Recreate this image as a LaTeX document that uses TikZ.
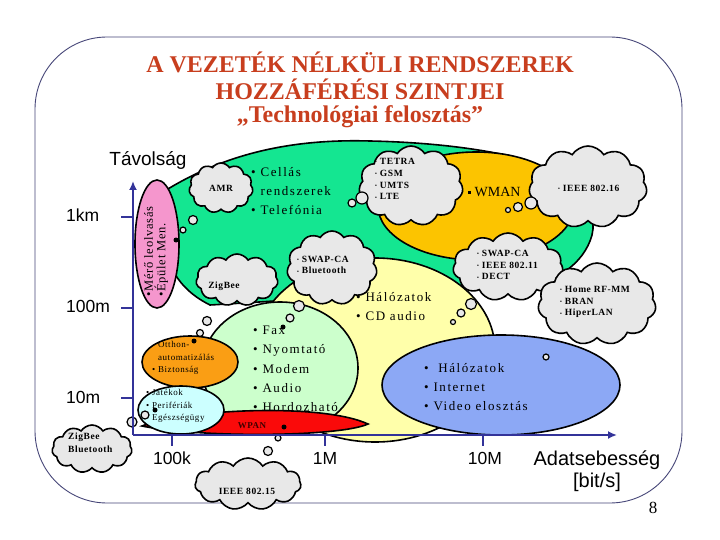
\documentclass[tikz,border=0pt]{standalone}
\usepackage{fontspec}
\usepackage{graphicx}
\setmainfont{Liberation Serif}
\newfontfamily\arialf{Liberation Sans}
\newfontfamily\spacedf[LetterSpace=12]{Liberation Serif}
\newfontfamily\cloudf[LetterSpace=6]{Liberation Serif}
\usetikzlibrary{shapes.symbols,arrows.meta}
\definecolor{titlec}{RGB}{200,62,30}
\definecolor{framec}{RGB}{70,70,120}
\definecolor{axisblue}{RGB}{51,51,153}
\definecolor{greenreg}{RGB}{20,230,145}
\definecolor{orangebig}{RGB}{252,196,0}
\definecolor{yellowreg}{RGB}{255,255,170}
\definecolor{lightgreen}{RGB}{204,255,204}
\definecolor{orangesmall}{RGB}{250,158,20}
\definecolor{cyanreg}{RGB}{204,255,255}
\definecolor{redreg}{RGB}{250,10,10}
\definecolor{bluereg}{RGB}{140,168,245}
\definecolor{pinkreg}{RGB}{245,150,205}
\definecolor{cloudgray}{RGB}{232,232,232}
\newcommand\smbul{\raisebox{0.6pt}{\scalebox{0.55}{•}}\ }
\begin{document}
\begin{tikzpicture}[x=1pt,y=-1pt,
  cloudbox/.style={cloud, cloud puffs=11, cloud puff arc=115, draw=black, line width=1.6pt, fill=cloudgray, inner sep=0pt},
  bubble/.style={draw=black, line width=1.2pt, fill=cloudgray},
  blackdot/.style={fill=black},
  region/.style={draw=black, line width=1.6pt},
  axisline/.style={draw=axisblue, line width=2.6pt},
  ticks/.style={draw=axisblue, line width=2.6pt},
  txt/.style={inner sep=0pt, align=left, anchor=west},
  titlestyle/.style={inner sep=0pt, text=titlec, font=\fontsize{24}{28}\selectfont\bfseries},
  axlabel/.style={inner sep=0pt, font=\arialf\fontsize{17.5}{20}\selectfont},
  biglabel/.style={inner sep=0pt, font=\arialf\fontsize{20}{22}\selectfont},
  serifbig/.style={txt, font=\spacedf\fontsize{13}{19.2}\selectfont},
  cloudtxt/.style={txt, font=\cloudf\bfseries\fontsize{9.5}{11.8}\selectfont},
  smalltxt/.style={txt, font=\cloudf\fontsize{9}{12.5}\selectfont},
]
\useasboundingbox (0,0) rectangle (720,540);
\fill[white] (0,0) rectangle (720,540);
\draw[draw=framec, line width=0.9pt, rounded corners=72pt] (35,37) rectangle (682,503);

% title
\node[titlestyle] (t1) at (360,62) {A VEZETÉK NÉLKÜLI RENDSZEREK};
\node[titlestyle] (t2) at (360,89) {HOZZÁFÉRÉSI SZINTJEI};
\node[titlestyle] (t3) at (360,117) {„Technológiai felosztás”};

% regions
\filldraw[region, fill=greenreg] (163,192) .. controls (230,150) and (300,139) .. (370,141)
  .. controls (420,142) and (470,147) .. (510,156)
  .. controls (560,168) and (600,205) .. (592,235)
  .. controls (588,250) and (578,262) .. (567,270)
  .. controls (540,285) and (500,286) .. (470,286)
  .. controls (420,290) and (300,300) .. (210,305)
  .. controls (190,295) and (178,282) .. (170,265) -- cycle;
\filldraw[region, fill=orangebig] (476,206) ellipse [x radius=98pt, y radius=54pt];
\filldraw[region, fill=yellowreg] (375,350) ellipse [x radius=120pt, y radius=92pt];
\filldraw[region, fill=bluereg] (501,385) ellipse [x radius=119pt, y radius=50pt];
\filldraw[region, fill=lightgreen] (280,368) ellipse [x radius=78pt, y radius=66pt];
\filldraw[region, fill=orangesmall] (190,362) ellipse [x radius=48pt, y radius=26pt];
\filldraw[region, fill=redreg] (142,426) .. controls (180,410) and (320,402) .. (368,424)
  .. controls (340,437) and (200,438) .. cycle;
\filldraw[region, fill=cyanreg] (181,410) ellipse [x radius=43pt, y radius=24pt];
\filldraw[region, fill=pinkreg] (157,244) ellipse [x radius=22pt, y radius=64pt];

% region texts
\node[txt, rotate=90, anchor=north west, font=\cloudf\fontsize{12.5}{12.5}\selectfont] (pinktxt) at (144,297) {•Mérő leolvasás\\•Épület Men.};
\node[serifbig] (celltxt) at (251,191) {•~Cellás\\\phantom{•~}rendszerek\\•~Telefónia};
\node[txt, font=\fontsize{14}{16}\selectfont] (wman) at (468,192) {\raisebox{3pt}{\rule{3pt}{3pt}}~WMAN};
\node[serifbig] (ylwtxt) at (356,306.5) {•~Hálózatok\\•~CD audio};
\node[serifbig] (lgtxt) at (253,369) {•~Fax\\•~Nyomtató\\•~Modem\\•~Audio\\•~Hordozható};
\node[serifbig] (bluetxt) at (424,387) {•~~Hálózatok\\•~Internet\\•~Video elosztás};
\node[smalltxt] (otthon) at (152,358) {\phantom{•~}Otthon-\\\phantom{•~}automatizálás\\•~Biztonság};
\node[smalltxt] (jatek) at (146,406) {•~Játékok\\•~Perifériák\\\phantom{•~}Egészségügy};
\node[inner sep=0pt, text=black!75!red, font=\cloudf\bfseries\fontsize{9}{10}\selectfont] (wpan) at (252,426) {WPAN};

% clouds
\node[cloudbox, minimum width=64pt, minimum height=50pt, aspect=1.28] (amr) at (221,188) {};
\node[cloudbox, minimum width=104pt, minimum height=80pt, aspect=1.3] (tetra) at (411,186) {};
\node[cloudbox, minimum width=118pt, minimum height=82pt, aspect=1.44] (ieee16) at (588,187) {};
\node[cloudbox, minimum width=110pt, minimum height=68pt, aspect=1.62] (swapdect) at (508,267) {};
\node[cloudbox, minimum width=90pt, minimum height=74pt, aspect=1.22] (swapbt) at (332,268) {};
\node[cloudbox, minimum width=82pt, minimum height=52pt, aspect=1.58] (zigbee) at (237,280) {};
\node[cloudbox, minimum width=118pt, minimum height=82pt, aspect=1.44] (homerf) at (597,304) {};
\node[cloudbox, minimum width=80pt, minimum height=48pt, aspect=1.67] (zbbt) at (92,449) {};
\node[cloudbox, minimum width=106pt, minimum height=52pt, aspect=2.04] (ieee15) at (248,484) {};

\node[inner sep=0pt, font=\cloudf\bfseries\fontsize{9.5}{11}\selectfont] (amrt) at (amr) {AMR};
\node[cloudtxt] (tetrat) at (375,179) {\smbul TETRA\\\smbul GSM\\\smbul UMTS\\\smbul LTE};
\node[cloudtxt] (ieee16t) at (558,188) {\smbul IEEE 802.16};
\node[cloudtxt] (swapdectt) at (477,265) {\smbul SWAP-CA\\\smbul IEEE 802.11\\\smbul DECT};
\node[cloudtxt] (swapbtt) at (297,265) {\smbul SWAP-CA\\\smbul Bluetooth};
\node[inner sep=0pt, font=\cloudf\bfseries\fontsize{9.5}{11}\selectfont] (zigbeet) at (224,286) {ZigBee};
\node[cloudtxt] (homerft) at (560,302) {\smbul Home RF-MM\\\smbul BRAN\\\smbul HiperLAN};
\node[cloudtxt, font=\cloudf\bfseries\fontsize{9.5}{13.5}\selectfont] (zbbtt) at (68,443) {ZigBee\\Bluetooth};
\node[inner sep=0pt, font=\cloudf\bfseries\fontsize{9.5}{11}\selectfont] (ieee15t) at (247,491) {IEEE 802.15};

% thought-bubble tails
\draw[bubble] (193,220) circle[radius=4.5pt];
\draw[bubble] (183,230) circle[radius=3pt];
\fill[blackdot] (176,240) circle[radius=2.5pt];
\draw[bubble] (362,198) circle[radius=6pt];
\draw[bubble] (352,203) circle[radius=4pt];
\draw[bubble] (531,203) circle[radius=6pt];
\draw[bubble] (518,207) circle[radius=4.5pt];
\draw[bubble] (508,210) circle[radius=2.5pt];
\draw[bubble] (471,304) circle[radius=5.5pt];
\draw[bubble] (461,313) circle[radius=4pt];
\draw[bubble] (453,322) circle[radius=2.5pt];
\draw[bubble] (299,306) circle[radius=5.5pt];
\draw[bubble] (290,318) circle[radius=4pt];
\fill[blackdot] (283,327) circle[radius=2.5pt];
\draw[bubble] (207,321) circle[radius=4.5pt];
\draw[bubble] (200,333) circle[radius=3.5pt];
\fill[blackdot] (194,341) circle[radius=2.5pt];
\draw[bubble] (132,422) circle[radius=5pt];
\draw[bubble] (145,415) circle[radius=4pt];
\fill[blackdot] (155,410) circle[radius=2.5pt];
\draw[bubble] (268,451) circle[radius=4.5pt];
\draw[bubble] (278,438) circle[radius=3pt];
\fill[blackdot] (284,427) circle[radius=2.5pt];
\draw[bubble] (546,357) circle[radius=3pt];

% axes
\coordinate (origin) at (133,435);
\coordinate (ytop) at (133,181);
\coordinate (xend) at (617,435);
\draw[axisline, -{Latex[length=9pt,width=8pt]}] (origin) -- (ytop);
\draw[axisline, -{Latex[length=9pt,width=8pt]}] (origin) -- (xend);
\foreach \yy in {217,308,398} \draw[ticks] (121,\yy) -- (133,\yy);
\foreach \xx in {172,325,483} \draw[ticks] (\xx,435) -- (\xx,446);

\node[axlabel, font=\arialf\fontsize{19}{22}\selectfont] (tav) at (148,160) {Távolság};
\node[axlabel, anchor=west] (l1km) at (66,215) {1km};
\node[axlabel, anchor=west] (l100m) at (66,306) {100m};
\node[axlabel, anchor=west] (l10m) at (66,397) {10m};
\node[axlabel] (l100k) at (172,458) {100k};
\node[axlabel] (l1M) at (325,458) {1M};
\node[axlabel] (l10M) at (485,458) {10M};
\node[biglabel] (adat) at (597,460) {Adatsebesség};
\node[biglabel] (bits) at (597,482) {[bit/s]};
\node[inner sep=0pt, font=\fontsize{17}{20}\selectfont] (pagenum) at (653,508) {8};
\end{tikzpicture}
\end{document}
